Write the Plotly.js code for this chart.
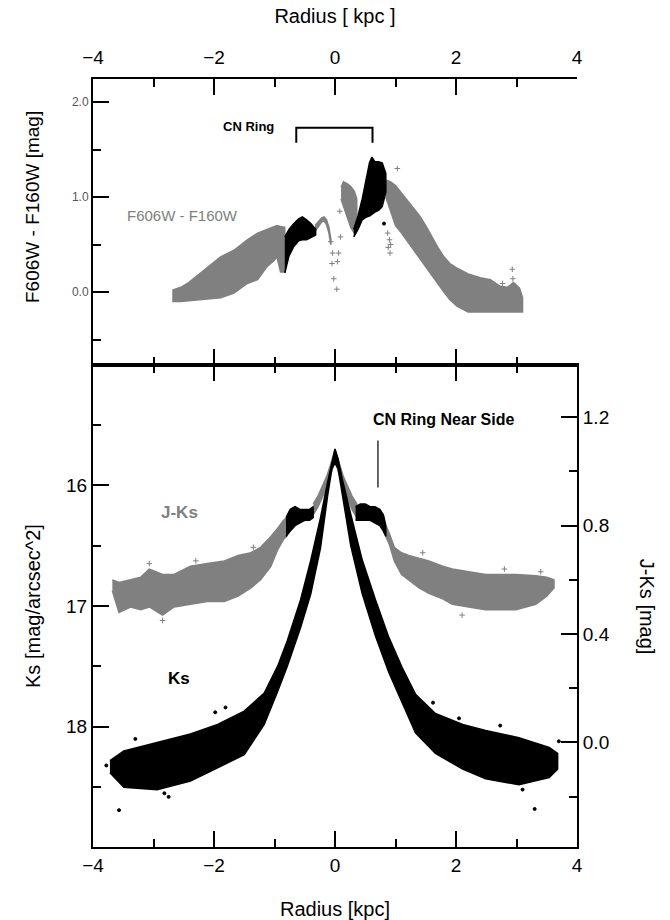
<!DOCTYPE html>
<html><head><meta charset="utf-8">
<script src="https://cdn.plot.ly/plotly-3.0.1.min.js"></script>
<style>html,body{margin:0;padding:0;background:#fff}#chart{width:670px;height:920px}</style>
</head><body><div id="chart"></div>
<script>
// ---------- Top panel: F606W - F160W colour (mag) vs radius (kpc) ----------
// gray band, west side
const colLeftX  = [-2.69, -2.55, -2.44, -2.17, -1.89, -1.67, -1.45, -1.28, -1.12, -1.01, -0.96, -0.90, -0.83];
const colLeftHi = [0.02, 0.05, 0.09, 0.23, 0.37, 0.44, 0.55, 0.62, 0.66, 0.69, 0.70, 0.69, 0.68];
const colLeftLo = [-0.10, -0.10, -0.10, -0.08, -0.06, -0.01, 0.09, 0.13, 0.27, 0.33, 0.37, 0.21, 0.21];
// black (CN ring) west side
const colRingWX  = [-0.83, -0.76, -0.68, -0.60, -0.54, -0.47, -0.40, -0.32];
const colRingWHi = [0.58, 0.66, 0.72, 0.77, 0.79, 0.76, 0.72, 0.66];
const colRingWLo = [0.20, 0.38, 0.48, 0.54, 0.55, 0.55, 0.57, 0.60];
// gray arc inside the ring
const colArcX  = [-0.33, -0.27, -0.22, -0.18, -0.14, -0.10, -0.07];
const colArcHi = [0.70, 0.75, 0.78, 0.79, 0.76, 0.68, 0.56];
const colArcLo = [0.64, 0.70, 0.74, 0.75, 0.71, 0.62, 0.50];
// isolated points near the nucleus
const colNucX = [-0.07, -0.04, 0.06, -0.05, 0.04, -0.02, 0.03, 0.09, 0.08];
const colNucY = [0.53, 0.41, 0.41, 0.30, 0.32, 0.14, 0.03, 0.58, 0.85];
// gray hump east of nucleus
const colHumpX  = [0.10, 0.14, 0.20, 0.26, 0.32, 0.36];
const colHumpHi = [1.10, 1.16, 1.14, 1.11, 1.06, 0.98];
const colHumpLo = [0.98, 0.92, 0.80, 0.68, 0.62, 0.70];
// black (CN ring) east side
const colRingEX  = [0.31, 0.38, 0.45, 0.52, 0.57, 0.61, 0.66, 0.72, 0.78, 0.84];
const colRingEHi = [0.66, 0.80, 0.98, 1.22, 1.36, 1.42, 1.37, 1.37, 1.36, 1.25];
const colRingELo = [0.58, 0.66, 0.76, 0.79, 0.80, 0.82, 0.84, 0.86, 0.90, 1.05];
// scattered gray points east of the ring
const colScatEX = [0.87, 0.90, 0.92, 0.88, 0.91, 1.03, 2.93, 2.77, 2.94, 2.97, 2.90];
const colScatEY = [0.62, 0.55, 0.50, 0.47, 0.41, 1.30, 0.24, 0.09, 0.14, 0.06, 0.03];
const colScatBX = [0.81];
const colScatBY = [0.72];
// gray band, east side
const colRightX  = [0.84, 0.92, 1.00, 1.10, 1.20, 1.30, 1.40, 1.50, 1.60, 1.70, 1.80, 1.90, 2.02, 2.20, 2.40, 2.57, 2.73, 2.85, 2.95, 3.05, 3.10];
const colRightHi = [1.18, 1.16, 1.12, 1.04, 0.97, 0.89, 0.80, 0.70, 0.58, 0.47, 0.37, 0.30, 0.25, 0.19, 0.15, 0.13, 0.06, 0.05, 0.10, 0.04, -0.06];
const colRightLo = [1.00, 0.85, 0.70, 0.62, 0.54, 0.45, 0.36, 0.27, 0.18, 0.09, 0.00, -0.08, -0.15, -0.21, -0.21, -0.21, -0.21, -0.21, -0.21, -0.21, -0.21];

// ---------- Bottom panel: J-Ks colour (right axis) ----------
const jkLeftX  = [-3.68, -3.57, -3.38, -3.21, -3.07, -2.85, -2.66, -2.39, -2.11, -1.83, -1.60, -1.39, -1.23, -1.06, -0.95, -0.85, -0.80];
const jkLeftHi = [0.60, 0.59, 0.60, 0.61, 0.64, 0.62, 0.62, 0.65, 0.66, 0.67, 0.69, 0.70, 0.72, 0.76, 0.79, 0.82, 0.83];
const jkLeftLo = [0.56, 0.48, 0.50, 0.49, 0.50, 0.47, 0.50, 0.51, 0.52, 0.52, 0.54, 0.57, 0.60, 0.65, 0.71, 0.75, 0.76];
const jkRingWX  = [-0.81, -0.74, -0.66, -0.58, -0.50, -0.42, -0.36];
const jkRingWHi = [0.83, 0.86, 0.87, 0.86, 0.86, 0.86, 0.87];
const jkRingWLo = [0.76, 0.78, 0.80, 0.81, 0.82, 0.82, 0.83];
const jkCoreX  = [-0.36, -0.28, -0.20, -0.14, -0.08, -0.03, 0.00, 0.03, 0.08, 0.14, 0.20, 0.28, 0.36];
const jkCoreHi = [0.88, 0.91, 0.95, 0.98, 1.02, 1.06, 1.08, 1.06, 1.02, 0.98, 0.95, 0.91, 0.88];
const jkCoreLo = [0.84, 0.87, 0.91, 0.94, 0.98, 1.02, 1.05, 1.02, 0.98, 0.94, 0.91, 0.86, 0.83];
const jkRingEX  = [0.34, 0.42, 0.50, 0.58, 0.66, 0.74, 0.80, 0.84];
const jkRingEHi = [0.87, 0.88, 0.88, 0.87, 0.87, 0.86, 0.84, 0.80];
const jkRingELo = [0.82, 0.82, 0.82, 0.82, 0.81, 0.80, 0.78, 0.76];
const jkRightX  = [0.84, 0.90, 0.98, 1.10, 1.22, 1.39, 1.55, 1.78, 1.94, 2.21, 2.49, 2.60, 2.99, 3.32, 3.50, 3.62];
const jkRightHi = [0.80, 0.77, 0.72, 0.70, 0.69, 0.68, 0.67, 0.65, 0.64, 0.63, 0.62, 0.62, 0.62, 0.615, 0.61, 0.60];
const jkRightLo = [0.76, 0.73, 0.67, 0.62, 0.60, 0.57, 0.55, 0.53, 0.51, 0.50, 0.49, 0.49, 0.49, 0.51, 0.54, 0.57];
// isolated J-Ks spikes
const jkSpikeX = [-3.07, -2.30, -1.35, 1.45, 2.80, 3.40, -2.85, 2.10];
const jkSpikeY = [0.66, 0.67, 0.72, 0.70, 0.64, 0.63, 0.45, 0.47];

// ---------- Bottom panel: Ks surface brightness (left axis, reversed) ----------
const ksX  = [-3.72, -3.49, -2.94, -2.39, -1.94, -1.50, -1.17, -0.95, -0.79, -0.57, -0.40, -0.24, -0.12, -0.05, 0.00, 0.05, 0.12, 0.26, 0.45, 0.67, 0.89, 1.11, 1.33, 1.66, 2.11, 2.49, 3.04, 3.54, 3.68];
const ksBright = [18.28, 18.20, 18.13, 18.06, 17.98, 17.87, 17.72, 17.50, 17.29, 16.95, 16.62, 16.27, 15.97, 15.80, 15.70, 15.78, 15.95, 16.24, 16.62, 16.95, 17.26, 17.51, 17.73, 17.89, 17.98, 18.03, 18.09, 18.17, 18.22];
const ksFaint  = [18.38, 18.50, 18.52, 18.45, 18.34, 18.23, 17.98, 17.71, 17.50, 17.18, 16.90, 16.52, 16.08, 15.86, 15.82, 15.86, 16.06, 16.50, 16.90, 17.25, 17.55, 17.80, 18.05, 18.22, 18.35, 18.43, 18.48, 18.42, 18.35];
const ksOutX = [-3.57, 3.30, 3.70, -3.78, -2.75, -2.82, -1.81, 2.73, 2.05, -1.98, 1.62, -3.30, 3.10];
const ksOutY = [18.69, 18.68, 18.12, 18.32, 18.58, 18.55, 17.84, 17.99, 17.93, 17.88, 17.80, 18.10, 18.52];

// annotation anchors
const cnRingX = [-0.64, 0.62];
const cnRingY = [1.57, 1.73];
const nearSideX = 0.71;
const nearSideY = [15.63, 16.02];

const GRAY = '#808080', BLACK = '#000000';
function band(xs, hi, lo, color, xa, ya) {
  return {
    type: 'scatter', mode: 'lines', xaxis: xa, yaxis: ya,
    x: xs.concat(xs.slice().reverse()),
    y: hi.concat(lo.slice().reverse()),
    fill: 'toself', fillcolor: color,
    line: {color: color, width: 1.5}, hoverinfo: 'skip', showlegend: false
  };
}
function pts(xs, ys, color, xa, ya, sym, size) {
  return {type: 'scatter', mode: 'markers', xaxis: xa, yaxis: ya, x: xs, y: ys,
    marker: {color: color, size: size || 3, symbol: sym || 'circle', line: {width: 1, color: color}},
    hoverinfo: 'skip', showlegend: false};
}

const traces = [
  band(colLeftX, colLeftHi, colLeftLo, GRAY, 'x2', 'y2'),
  band(colArcX, colArcHi, colArcLo, GRAY, 'x2', 'y2'),
  band(colHumpX, colHumpHi, colHumpLo, GRAY, 'x2', 'y2'),
  band(colRightX, colRightHi, colRightLo, GRAY, 'x2', 'y2'),
  pts(colNucX, colNucY, GRAY, 'x2', 'y2', 'cross-thin', 4),
  pts(colScatEX, colScatEY, GRAY, 'x2', 'y2', 'cross-thin', 4),
  band(colRingWX, colRingWHi, colRingWLo, BLACK, 'x2', 'y2'),
  band(colRingEX, colRingEHi, colRingELo, BLACK, 'x2', 'y2'),
  pts(colScatBX, colScatBY, BLACK, 'x2', 'y2'),

  band(jkLeftX, jkLeftHi, jkLeftLo, GRAY, 'x', 'y'),
  band(jkCoreX, jkCoreHi, jkCoreLo, GRAY, 'x', 'y'),
  band(jkRightX, jkRightHi, jkRightLo, GRAY, 'x', 'y'),
  pts(jkSpikeX, jkSpikeY, GRAY, 'x', 'y', 'cross-thin', 4),
  band(jkRingWX, jkRingWHi, jkRingWLo, BLACK, 'x', 'y'),
  band(jkRingEX, jkRingEHi, jkRingELo, BLACK, 'x', 'y'),

  band(ksX, ksBright, ksFaint, BLACK, 'x', 'y4'),
  pts(ksOutX, ksOutY, BLACK, 'x', 'y4')
];

const FONT = 'Liberation Sans, Arial, sans-serif';
const TOP_DOMAIN = 482 / 768;
const axBase = {
  showline: true, linewidth: 2, linecolor: '#000', showgrid: false, zeroline: false,
  ticks: 'inside', ticklen: 16, tickwidth: 2, tickcolor: '#000',
  tickfont: {family: FONT, size: 19, color: '#000'}
};
const layout = {
  width: 670, height: 920,
  margin: {l: 93, r: 93, t: 79, b: 73},
  paper_bgcolor: '#fff', plot_bgcolor: 'rgba(0,0,0,0)',
  showlegend: false, hovermode: false,
  font: {family: FONT, color: '#000'},
  xaxis: Object.assign({}, axBase, {
    anchor: 'y', domain: [0, 1], range: [-4, 4], dtick: 2, tick0: 0, side: 'bottom', mirror: 'ticks',
    minor: {dtick: 1, ticklen: 8, tickwidth: 2, tickcolor: '#000', ticks: 'inside'},
    title: {text: 'Radius [kpc]', font: {family: FONT, size: 20}, standoff: 29}
  }),
  xaxis2: Object.assign({}, axBase, {
    anchor: 'y2', domain: [0, 1], range: [-4, 4], dtick: 2, tick0: 0, side: 'top', mirror: 'ticks',
    ticklabelstandoff: 5,
    minor: {dtick: 1, ticklen: 8, tickwidth: 2, tickcolor: '#000', ticks: 'inside'},
    title: {text: 'Radius [ kpc ]', font: {family: FONT, size: 20}, standoff: 18}
  }),
  yaxis: Object.assign({}, axBase, {
    anchor: 'x', domain: [0, TOP_DOMAIN], range: [-0.386, 1.393], dtick: 0.4, tick0: 0,
    tickformat: '.1f', side: 'right',
    minor: {dtick: 0.2, ticklen: 8, tickwidth: 2, tickcolor: '#000', ticks: 'inside'}
  }),
  yaxis4: Object.assign({}, axBase, {
    anchor: 'x', overlaying: 'y', side: 'left', range: [18.995, 15.005], dtick: 1, tick0: 0,
    minor: {dtick: 0.5, ticklen: 8, tickwidth: 2, tickcolor: '#000', ticks: 'inside'}
  }),
  yaxis2: Object.assign({}, axBase, {
    anchor: 'x2', domain: [TOP_DOMAIN, 1], range: [-0.768, 2.242], dtick: 1, tick0: 0,
    tickformat: '.1f', side: 'left',
    tickfont: {family: FONT, size: 12, color: '#555'},
    minor: {dtick: 0.5, ticklen: 8, tickwidth: 2, tickcolor: '#000', ticks: 'inside'}
  }),
  yaxis3: Object.assign({}, axBase, {
    anchor: 'x2', overlaying: 'y2', side: 'right', range: [-1.043, 5.043], dtick: 1, tick0: 0,
    showticklabels: false
  }),
  shapes: [
    {type: 'path', xref: 'x2', yref: 'y2',
     path: 'M ' + cnRingX[0] + ',' + cnRingY[0] + ' L ' + cnRingX[0] + ',' + cnRingY[1] +
           ' L ' + cnRingX[1] + ',' + cnRingY[1] + ' L ' + cnRingX[1] + ',' + cnRingY[0],
     line: {color: '#000', width: 2}},
    {type: 'line', xref: 'x', yref: 'y4', x0: nearSideX, x1: nearSideX, y0: nearSideY[0], y1: nearSideY[1],
     line: {color: '#000', width: 1.2}}
  ],
  annotations: [
    {xref: 'x2', yref: 'y2', x: -1.43, y: 1.74, text: '<b>CN Ring</b>', showarrow: false,
     font: {family: FONT, size: 13, color: '#000'}},
    {xref: 'x2', yref: 'y2', x: -2.52, y: 0.81, text: 'F606W - F160W', showarrow: false,
     font: {family: FONT, size: 15, color: GRAY}},
    {xref: 'x', yref: 'y4', x: 1.79, y: 15.46, text: '<b>CN Ring Near Side</b>', showarrow: false,
     font: {family: FONT, size: 16, color: '#000'}},
    {xref: 'x', yref: 'y4', x: -2.57, y: 16.23, text: '<b>J-Ks</b>', showarrow: false,
     font: {family: FONT, size: 17, color: GRAY}},
    {xref: 'x', yref: 'y4', x: -2.58, y: 17.6, text: '<b>Ks</b>', showarrow: false,
     font: {family: FONT, size: 17, color: '#000'}},
    {xref: 'paper', yref: 'paper', x: -0.124, y: (847 - 207) / 768, xanchor: 'center', yanchor: 'middle',
     text: 'F606W - F160W [mag]', textangle: -90, showarrow: false,
     font: {family: FONT, size: 19, color: '#000'}},
    {xref: 'paper', yref: 'paper', x: -0.124, y: (847 - 606) / 768, xanchor: 'center', yanchor: 'middle',
     text: 'Ks [mag/arcsec^2]', textangle: -90, showarrow: false,
     font: {family: FONT, size: 20, color: '#000'}},
    {xref: 'paper', yref: 'paper', x: 1.145, y: (847 - 607) / 768, xanchor: 'center', yanchor: 'middle',
     text: 'J-Ks [mag]', textangle: 90, showarrow: false,
     font: {family: FONT, size: 20, color: '#000'}}
  ]
};

Plotly.newPlot('chart', traces, layout, {staticPlot: true, displayModeBar: false});
</script>
</body></html>
